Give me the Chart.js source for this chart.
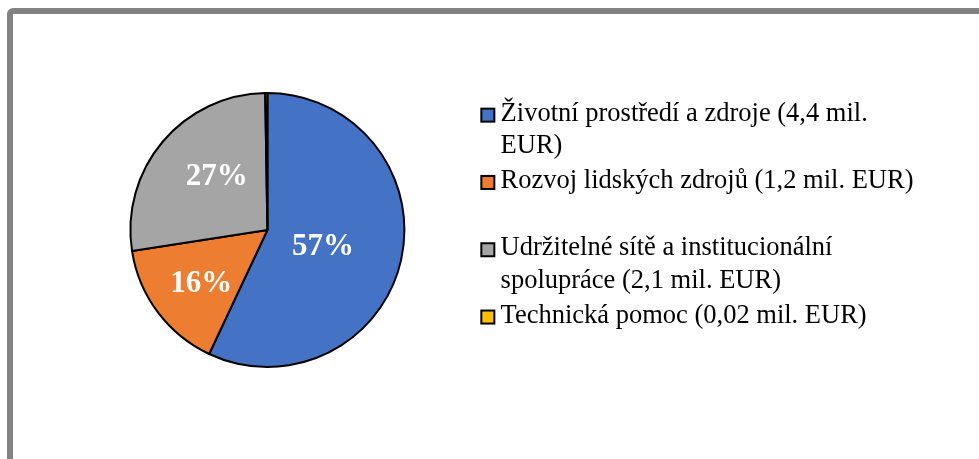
<!DOCTYPE html>
<html><head><meta charset="utf-8">
<script src="https://cdn.jsdelivr.net/npm/chart.js@4.4.1/dist/chart.umd.min.js"></script>
<style>
html,body{margin:0;padding:0;background:#fff;overflow:hidden;}
#wrap{position:relative;width:979px;height:459px;overflow:hidden;}
#frame{position:absolute;left:7px;top:8px;width:1100px;height:600px;border:6px solid #828282;border-radius:6px;box-sizing:border-box;}
canvas{position:absolute;left:0;top:0;}
</style></head><body>
<div id="wrap"><div id="frame"></div><canvas id="c" width="979" height="459"></canvas></div>
<script>
const categories = [
  ['Životní prostředí a zdroje (4,4 mil.', 'EUR)'],
  ['Rozvoj lidských zdrojů (1,2 mil. EUR)', ''],
  ['Udržitelné sítě a institucionální', 'spolupráce (2,1 mil. EUR)'],
  ['Technická pomoc (0,02 mil. EUR)', '']
];
const values = [4.4, 1.2, 2.1, 0.02];
const colors = ['#4472C4', '#ED7D31', '#A5A5A5', '#FFC000'];

const pctLabels = {
  id: 'pctLabels',
  afterDatasetsDraw(chart, args, opts) {
    const ctx = chart.ctx;
    const meta = chart.getDatasetMeta(0);
    const data = chart.data.datasets[0].data;
    const total = data.reduce((a, b) => a + b, 0);
    meta.data.forEach((arc, i) => {
      const pct = data[i] / total * 100;
      if (pct < 1) return;
      const p = arc.getProps(['x', 'y', 'startAngle', 'endAngle', 'outerRadius'], true);
      const mid = (p.startAngle + p.endAngle) / 2 + opts.angleShift[i] * Math.PI / 180;
      const r = p.outerRadius * opts.fractions[i];
      ctx.save();
      ctx.fillStyle = '#fff';
      ctx.font = 'bold 31px "Liberation Serif", "Times New Roman", serif';
      ctx.textAlign = 'center';
      ctx.textBaseline = 'alphabetic';
      ctx.fillText(Math.round(pct) + '%', p.x + Math.cos(mid) * r, p.y + Math.sin(mid) * r + 10.3);
      ctx.restore();
    });
  }
};

const legendBoxes = {
  id: 'legendBoxes',
  afterDraw(chart) {
    const lg = chart.legend;
    const ctx = chart.ctx;
    const fs = lg.options.labels.font.size;
    const bg = chart.data.datasets[0].backgroundColor;
    lg.legendHitBoxes.forEach((hb, i) => {
      const baseline = hb.top + fs / 2 + 8.9;
      const y = baseline - 14;
      ctx.save();
      ctx.fillStyle = bg[i];
      ctx.strokeStyle = '#000';
      ctx.lineWidth = 2;
      ctx.fillRect(hb.left + 1, y, 13, 13);
      ctx.strokeRect(hb.left + 1, y, 13, 13);
      ctx.restore();
    });
  }
};

new Chart(document.getElementById('c'), {
  type: 'pie',
  data: {
    labels: categories,
    datasets: [{
      data: values,
      backgroundColor: colors,
      borderColor: '#000',
      borderWidth: 2,
      radius: 137
    }]
  },
  options: {
    responsive: false,
    animation: false,
    layout: { padding: { left: 57, right: 55.5, top: 20, bottom: 19 } },
    plugins: {
      tooltip: { enabled: false },
      legend: {
        position: 'right',
        maxWidth: 700,
        title: { display: true, text: '', font: { size: 7, lineHeight: 1.1 }, padding: 0 },
        labels: {
          color: '#000',
          font: { family: '"Liberation Serif", "Times New Roman", serif', size: 26.5, lineHeight: 1.2226 },
          boxWidth: 7,
          boxHeight: 11,
          padding: 2.5,
          generateLabels(chart) {
            return Chart.overrides.pie.plugins.legend.labels.generateLabels(chart).map(l => ({
              ...l, fillStyle: 'rgba(0,0,0,0)', strokeStyle: 'rgba(0,0,0,0)', lineWidth: 0
            }));
          }
        }
      },
      pctLabels: { fractions: [0.42, 0.612, 0.547, 0.5], angleShift: [2.2, -1, 7.4, 0] }
    }
  },
  plugins: [pctLabels, legendBoxes]
});
</script>
</body></html>
